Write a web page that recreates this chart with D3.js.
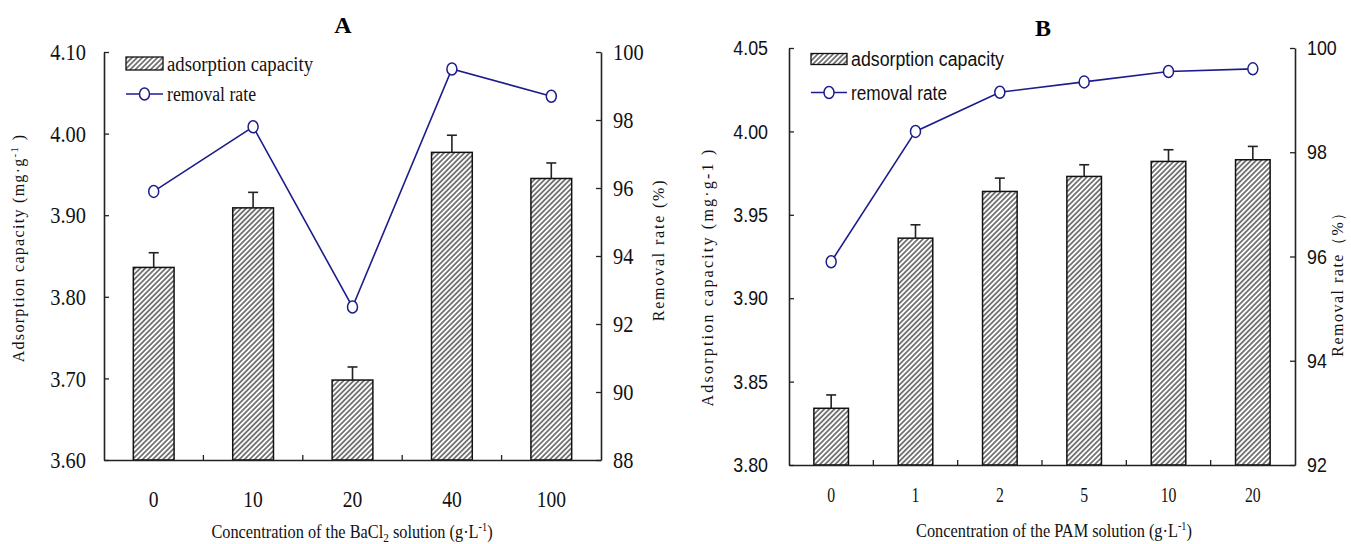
<!DOCTYPE html>
<html>
<head>
<meta charset="utf-8">
<script src="https://d3js.org/d3.v7.min.js"></script>
<style>
  body { margin: 0; background: #fff; }
  svg { display: block; }
</style>
</head>
<body>
<div id="my_dataviz"></div>
<script>

// ---- data, panel A ----
var catsA = ["0", "10", "20", "40", "100"];
var capA = [3.836, 3.909, 3.698, 3.977, 3.945];
var errA = [0.018, 0.019, 0.016, 0.021, 0.019];
var rateA = [95.9, 97.8, 92.5, 99.5, 98.7];
var leftTicksA = [3.60, 3.70, 3.80, 3.90, 4.00, 4.10];
var rightTicksA = [88, 90, 92, 94, 96, 98, 100];

// ---- data, panel B ----
var catsB = ["0", "1", "2", "5", "10", "20"];
var capB = [3.834, 3.936, 3.964, 3.973, 3.982, 3.983];
var errB = [0.008, 0.008, 0.008, 0.007, 0.007, 0.008];
var rateB = [95.9, 98.4, 99.15, 99.35, 99.55, 99.6];
var leftTicksB = [3.80, 3.85, 3.90, 3.95, 4.00, 4.05];
var rightTicksB = [92, 94, 96, 98, 100];

var serif = "Liberation Serif, Times New Roman, serif";
var sans = "Liberation Sans, Arial, sans-serif";
var navy = "#1c1c8c";

var svg = d3.select("#my_dataviz")
  .append("svg")
    .attr("width", 1351)
    .attr("height", 544);

// hatch fill for the bars
var defs = svg.append("defs");
defs.append("pattern")
    .attr("id", "hatch")
    .attr("patternUnits", "userSpaceOnUse")
    .attr("width", 3.6)
    .attr("height", 3.6)
    .attr("patternTransform", "rotate(45)")
  .call(function(p) {
    p.append("rect").attr("width", 3.6).attr("height", 3.6).attr("fill", "#fff");
    p.append("line")
      .attr("x1", 0.9).attr("y1", 0).attr("x2", 0.9).attr("y2", 3.6)
      .attr("stroke", "#4a4a4a").attr("stroke-width", 1.4);
  });

function drawPanel(cfg) {
  var g = svg.append("g");

  var x = d3.scaleBand()
    .domain(cfg.cats)
    .range([cfg.left, cfg.right]);

  var y = d3.scaleLinear()
    .domain(cfg.capDomain)
    .range([cfg.bottom, cfg.top]);

  var y2 = d3.scaleLinear()
    .domain(cfg.rateDomain)
    .range([cfg.bottom, cfg.top]);

  var barW = x.bandwidth() * 0.41;

  // bars
  g.selectAll("rect.bar")
    .data(cfg.cap)
    .enter()
    .append("rect")
      .attr("class", "bar")
      .attr("x", function(d, i) { return x(cfg.cats[i]) + x.bandwidth() / 2 - barW / 2; })
      .attr("y", function(d) { return y(d); })
      .attr("width", barW)
      .attr("height", function(d) { return cfg.bottom - y(d); })
      .attr("fill", "url(#hatch)")
      .attr("stroke", "#111")
      .attr("stroke-width", 1.5);

  // error bars (upper half only)
  cfg.cap.forEach(function(d, i) {
    var cx = x(cfg.cats[i]) + x.bandwidth() / 2;
    g.append("line")
      .attr("x1", cx).attr("x2", cx)
      .attr("y1", y(d)).attr("y2", y(d + cfg.err[i]))
      .attr("stroke", "#222").attr("stroke-width", 1.6);
    g.append("line")
      .attr("x1", cx - 5).attr("x2", cx + 5)
      .attr("y1", y(d + cfg.err[i])).attr("y2", y(d + cfg.err[i]))
      .attr("stroke", "#222").attr("stroke-width", 1.6);
  });

  // left axis
  var la = g.append("g")
    .attr("transform", "translate(" + cfg.left + ",0)")
    .call(d3.axisLeft(y).tickValues(cfg.leftTicks).tickFormat(d3.format(".2f"))
      .tickSizeInner(-5).tickSizeOuter(0).tickPadding(cfg.leftPad / cfg.tickScale));
  la.attr("font-family", cfg.yFont);
  la.selectAll("text")
    .attr("transform", "scale(" + cfg.tickScale + ",1)")
    .attr("font-family", cfg.yFont).style("font-size", cfg.yFontSize + "px").attr("fill", "#111");

  // right axis
  var ra = g.append("g")
    .attr("transform", "translate(" + cfg.right + ",0)")
    .call(d3.axisRight(y2).tickValues(cfg.rightTicks).tickFormat(d3.format("d"))
      .tickSizeInner(-5).tickSizeOuter(0).tickPadding(cfg.rightPad / cfg.tickScale));
  ra.attr("font-family", cfg.yFont);
  ra.selectAll("text")
    .attr("transform", "scale(" + cfg.tickScale + ",1)")
    .attr("font-family", cfg.yFont).style("font-size", cfg.yFontSize + "px").attr("fill", "#111");

  // bottom axis: labels at band centres, ticks at band edges
  var ba = g.append("g")
    .attr("transform", "translate(0," + cfg.bottom + ")")
    .call(d3.axisBottom(x).tickSize(0).tickPadding(cfg.xPad));
  ba.attr("font-family", serif);
  ba.selectAll("text")
    .attr("transform", "scale(" + cfg.xScale + ",1)")
    .attr("font-family", serif).style("font-size", cfg.xFontSize + "px").attr("fill", "#111");
  g.selectAll("line.sep")
    .data(cfg.cats.slice(1))
    .enter()
    .append("line")
      .attr("class", "sep")
      .attr("x1", function(d) { return x(d); })
      .attr("x2", function(d) { return x(d); })
      .attr("y1", cfg.bottom)
      .attr("y2", cfg.bottom - 5)
      .attr("stroke", "#222").attr("stroke-width", 1.3);

  g.selectAll(".domain").attr("stroke", "#222").attr("stroke-width", 1.6);
  g.selectAll(".tick line").attr("stroke", "#222").attr("stroke-width", 1.3);

  // removal rate line
  var line = d3.line()
    .x(function(d, i) { return x(cfg.cats[i]) + x.bandwidth() / 2; })
    .y(function(d) { return y2(d); });
  g.append("path")
    .datum(cfg.rate)
    .attr("d", line)
    .attr("fill", "none")
    .attr("stroke", navy)
    .attr("stroke-width", 1.6);
  g.selectAll("ellipse.pt")
    .data(cfg.rate)
    .enter()
    .append("ellipse")
      .attr("class", "pt")
      .attr("cx", function(d, i) { return x(cfg.cats[i]) + x.bandwidth() / 2; })
      .attr("cy", function(d) { return y2(d); })
      .attr("rx", 5)
      .attr("ry", 6)
      .attr("fill", "#fff")
      .attr("stroke", navy)
      .attr("stroke-width", 1.5);

  // title
  g.append("text")
    .attr("x", cfg.titleX).attr("y", cfg.titleY)
    .attr("text-anchor", "middle")
    .attr("font-family", serif).style("font-weight", "bold").style("font-size", "24px")
    .text(cfg.title);

  // legend
  var L = cfg.legend;
  g.append("rect")
    .attr("x", L.x).attr("y", L.y1 - L.h / 2)
    .attr("width", L.w).attr("height", L.h)
    .attr("fill", "url(#hatch)").attr("stroke", "#111").attr("stroke-width", 1.3);
  g.append("text")
    .attr("x", L.x + L.w + 4).attr("y", L.y1)
    .attr("dy", "0.35em")
    .attr("textLength", L.t1).attr("lengthAdjust", "spacingAndGlyphs")
    .attr("font-family", L.font).style("font-size", L.size + "px").attr("fill", "#111")
    .text("adsorption capacity");
  g.append("line")
    .attr("x1", L.x).attr("x2", L.x + L.w)
    .attr("y1", L.y2).attr("y2", L.y2)
    .attr("stroke", navy).attr("stroke-width", 1.6);
  g.append("ellipse")
    .attr("cx", L.x + L.w / 2).attr("cy", L.y2)
    .attr("rx", 5).attr("ry", 6)
    .attr("fill", "#fff").attr("stroke", navy).attr("stroke-width", 1.5);
  g.append("text")
    .attr("x", L.x + L.w + 4).attr("y", L.y2)
    .attr("dy", "0.35em")
    .attr("textLength", L.t2).attr("lengthAdjust", "spacingAndGlyphs")
    .attr("font-family", L.font).style("font-size", L.size + "px").attr("fill", "#111")
    .text("removal rate");

  // x axis title (condensed, like the original)
  var xt = g.append("text")
    .attr("transform", "translate(" + cfg.xTitleX + "," + cfg.xTitleY + ") scale(0.86,1)")
    .attr("text-anchor", "middle")
    .attr("font-family", serif).style("font-size", "19px").attr("fill", "#111");
  cfg.xTitle(xt);

  // left y title
  var yt = g.append("text")
    .attr("transform", "translate(" + cfg.yTitleX + "," + cfg.yTitleY + ") rotate(-90)")
    .attr("text-anchor", "middle")
    .attr("font-family", serif).style("font-size", "16px")
    .style("letter-spacing", cfg.yTitleLS + "px").attr("fill", "#111");
  cfg.yTitle(yt);

  // right y title
  g.append("text")
    .attr("transform", "translate(" + cfg.y2TitleX + "," + cfg.y2TitleY + ") rotate(-90)")
    .attr("text-anchor", "middle")
    .attr("font-family", serif).style("font-size", "16px")
    .style("letter-spacing", cfg.y2TitleLS + "px").attr("fill", "#111")
    .text(cfg.y2Title);
}

drawPanel({
  cats: catsA, cap: capA, err: errA, rate: rateA,
  leftTicks: leftTicksA, rightTicks: rightTicksA,
  capDomain: [3.6, 4.1], rateDomain: [88, 100],
  left: 104, right: 601, top: 52, bottom: 460,
  tickScale: 0.85, yFont: serif, yFontSize: 24, leftPad: 18, rightPad: 12,
  xScale: 0.85, xFontSize: 23, xPad: 31,
  title: "A", titleX: 343, titleY: 33,
  legend: {x: 126, y1: 63.5, y2: 94, w: 37, h: 13, font: serif, size: 20, t1: 146, t2: 89},
  xTitleX: 352, xTitleY: 538,
  xTitle: function(t) {
    t.append("tspan").text("Concentration of the BaCl");
    t.append("tspan").attr("dy", 4).style("font-size", "13px").text("2");
    t.append("tspan").attr("dy", -4).text(" solution (g·L");
    t.append("tspan").attr("dy", -7).style("font-size", "12px").text("-1");
    t.append("tspan").attr("dy", 7).text(")");
  },
  yTitleX: 24, yTitleY: 248, yTitleLS: 1.3,
  yTitle: function(t) {
    t.append("tspan").text("Adsorption capacity (mg·g");
    t.append("tspan").attr("dy", -6).style("font-size", "11px").text("-1");
    t.append("tspan").attr("dy", 6).text(" )");
  },
  y2TitleX: 664, y2TitleY: 250, y2TitleLS: 1.8, y2Title: "Removal rate (%)"
});

drawPanel({
  cats: catsB, cap: capB, err: errB, rate: rateB,
  leftTicks: leftTicksB, rightTicks: rightTicksB,
  capDomain: [3.8, 4.05], rateDomain: [92, 100],
  left: 789, right: 1295, top: 48, bottom: 465,
  tickScale: 0.85, yFont: sans, yFontSize: 21, leftPad: 21, rightPad: 12,
  xScale: 0.75, xFontSize: 21, xPad: 22,
  title: "B", titleX: 1043, titleY: 36,
  legend: {x: 811, y1: 59, y2: 92.5, w: 36, h: 11, font: sans, size: 20, t1: 153, t2: 96},
  xTitleX: 1054, xTitleY: 537,
  xTitle: function(t) {
    t.append("tspan").text("Concentration of the PAM solution (g·L");
    t.append("tspan").attr("dy", -7).style("font-size", "12px").text("-1");
    t.append("tspan").attr("dy", 7).text(")");
  },
  yTitleX: 713, yTitleY: 277, yTitleLS: 2.2,
  yTitle: function(t) {
    t.text("Adsorption capacity (mg·g-1 )");
  },
  y2TitleX: 1343, y2TitleY: 280, y2TitleLS: 1.5, y2Title: "Removal rate（%）"
});

</script>
</body>
</html>
